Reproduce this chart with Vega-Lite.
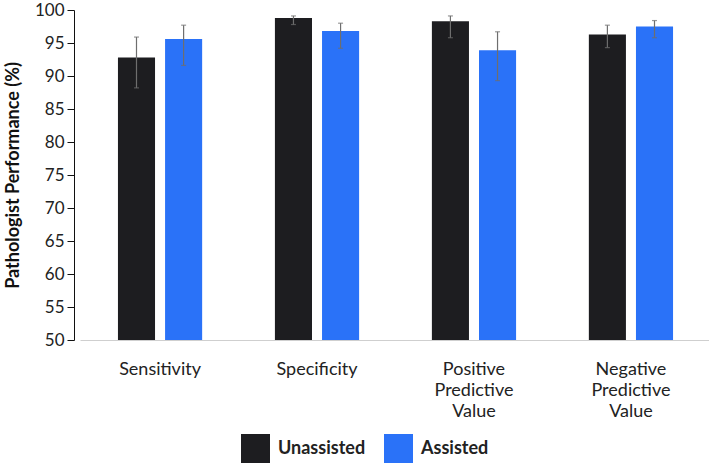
{
  "$schema": "https://vega.github.io/schema/vega-lite/v6.json",
  "width": 631,
  "height": 330,
  "padding": {"left": 4, "top": 1, "right": 0, "bottom": 0},
  "background": "white",
  "data": {
    "values": [
      {"metric": "Sensitivity", "group": "Unassisted", "value": 92.8, "lo": 88.2, "hi": 95.9},
      {"metric": "Sensitivity", "group": "Assisted", "value": 95.6, "lo": 91.6, "hi": 97.7},
      {"metric": "Specificity", "group": "Unassisted", "value": 98.8, "lo": 97.8, "hi": 99.1},
      {"metric": "Specificity", "group": "Assisted", "value": 96.8, "lo": 94.2, "hi": 98.0},
      {"metric": "Positive Predictive Value", "group": "Unassisted", "value": 98.3, "lo": 95.8, "hi": 99.1},
      {"metric": "Positive Predictive Value", "group": "Assisted", "value": 93.9, "lo": 89.3, "hi": 96.7},
      {"metric": "Negative Predictive Value", "group": "Unassisted", "value": 96.3, "lo": 94.3, "hi": 97.7},
      {"metric": "Negative Predictive Value", "group": "Assisted", "value": 97.5, "lo": 95.8, "hi": 98.4}
    ]
  },
  "encoding": {
    "x": {
      "field": "metric",
      "type": "nominal",
      "sort": ["Sensitivity", "Specificity", "Positive Predictive Value", "Negative Predictive Value"],
      "scale": {"paddingInner": 0.4, "paddingOuter": 0.21},
      "axis": {
        "title": null,
        "labelAngle": 0,
        "labelExpr": "split(datum.label, ' ')",
        "labelFont": "Lato",
        "labelFontSize": 18,
        "labelColor": "#222222",
        "labelPadding": 20,
        "labelLineHeight": 21,
        "ticks": false,
        "domainColor": "#cfcfcf",
        "grid": false
      }
    },
    "xOffset": {
      "field": "group",
      "type": "nominal",
      "sort": ["Unassisted", "Assisted"],
      "scale": {"paddingInner": 0.213, "paddingOuter": 0.106}
    }
  },
  "layer": [
    {
      "mark": {"type": "bar"},
      "encoding": {
        "y": {
          "field": "value",
          "type": "quantitative",
          "scale": {"domain": [50, 100], "zero": false, "nice": false},
          "axis": {
            "title": "Pathologist Performance (%)",
            "titleFont": "Lato",
            "titleFontSize": 18,
            "titleFontWeight": "bold",
            "titleColor": "#111111",
            "titlePadding": 12,
            "offset": 6,
            "values": [50, 55, 60, 65, 70, 75, 80, 85, 90, 95, 100],
            "labelOverlap": false,
            "labelFont": "Lato",
            "labelFontSize": 17,
            "labelPadding": 3,
            "labelColor": "#222222",
            "domainColor": "#111111",
            "tickColor": "#111111",
            "tickSize": 7,
            "grid": false
          }
        },
        "y2": {"datum": 50},
        "color": {
          "field": "group",
          "type": "nominal",
          "sort": ["Unassisted", "Assisted"],
          "scale": {"domain": ["Unassisted", "Assisted"], "range": ["#1d1d20", "#2a72f8"]},
          "legend": {
            "title": null,
            "orient": "none",
            "direction": "horizontal",
            "legendX": 161,
            "legendY": 424,
            "symbolType": "square",
            "symbolSize": 841,
            "symbolStrokeWidth": 0,
            "symbolOpacity": 1,
            "labelFont": "Lato",
            "labelFontSize": 18,
            "labelFontWeight": "bold",
            "labelColor": "#222222",
            "labelOffset": 8,
            "columnPadding": 18
          }
        }
      }
    },
    {
      "mark": {"type": "rule", "color": "#6e6e6e", "strokeWidth": 1.2},
      "encoding": {
        "y": {
          "field": "lo",
          "type": "quantitative",
          "axis": {
            "title": "Pathologist Performance (%)",
            "titleFont": "Lato",
            "titleFontSize": 18,
            "titleFontWeight": "bold",
            "titleColor": "#111111",
            "titlePadding": 12,
            "offset": 6,
            "values": [50, 55, 60, 65, 70, 75, 80, 85, 90, 95, 100],
            "labelOverlap": false,
            "labelFont": "Lato",
            "labelFontSize": 17,
            "labelPadding": 3,
            "labelColor": "#222222",
            "domainColor": "#111111",
            "tickColor": "#111111",
            "tickSize": 7,
            "grid": false
          }
        },
        "y2": {"field": "hi"}
      }
    },
    {
      "mark": {"type": "tick", "color": "#6e6e6e", "size": 5, "thickness": 1.2},
      "encoding": {
        "y": {
          "field": "hi",
          "type": "quantitative",
          "axis": {
            "title": "Pathologist Performance (%)",
            "titleFont": "Lato",
            "titleFontSize": 18,
            "titleFontWeight": "bold",
            "titleColor": "#111111",
            "titlePadding": 12,
            "offset": 6,
            "values": [50, 55, 60, 65, 70, 75, 80, 85, 90, 95, 100],
            "labelOverlap": false,
            "labelFont": "Lato",
            "labelFontSize": 17,
            "labelPadding": 3,
            "labelColor": "#222222",
            "domainColor": "#111111",
            "tickColor": "#111111",
            "tickSize": 7,
            "grid": false
          }
        }
      }
    },
    {
      "mark": {"type": "tick", "color": "#6e6e6e", "size": 5, "thickness": 1.2},
      "encoding": {
        "y": {
          "field": "lo",
          "type": "quantitative",
          "axis": {
            "title": "Pathologist Performance (%)",
            "titleFont": "Lato",
            "titleFontSize": 18,
            "titleFontWeight": "bold",
            "titleColor": "#111111",
            "titlePadding": 12,
            "offset": 6,
            "values": [50, 55, 60, 65, 70, 75, 80, 85, 90, 95, 100],
            "labelOverlap": false,
            "labelFont": "Lato",
            "labelFontSize": 17,
            "labelPadding": 3,
            "labelColor": "#222222",
            "domainColor": "#111111",
            "tickColor": "#111111",
            "tickSize": 7,
            "grid": false
          }
        }
      }
    }
  ],
  "config": {"view": {"stroke": null}}
}
